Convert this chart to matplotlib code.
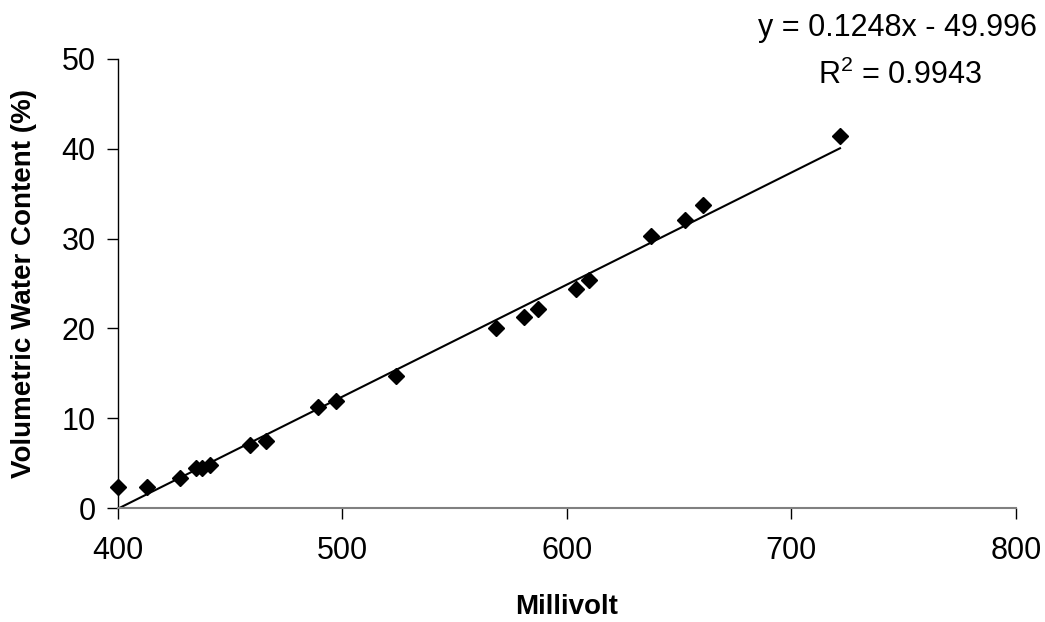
import matplotlib
matplotlib.use("Agg")
import matplotlib.pyplot as plt
import numpy as np

plt.rcParams['font.family'] = ['Liberation Sans', 'DejaVu Sans']
plt.rcParams['mathtext.fontset'] = 'custom'
plt.rcParams['mathtext.rm'] = 'Liberation Sans'
plt.rcParams['mathtext.it'] = 'Liberation Sans'

millivolt = [400, 412.8, 427.6, 434.7, 437.6, 441, 458.8, 465.8, 489, 497,
             524, 568.4, 580.8, 587, 603.9, 610, 637.4, 652.6, 660.4, 721.6]
vwc = [2.3, 2.3, 3.3, 4.4, 4.4, 4.8, 7.0, 7.5, 11.2, 11.9,
       14.7, 20.0, 21.3, 22.2, 24.4, 25.4, 30.3, 32.1, 33.7, 41.4]
slope = 0.1248
intercept = -49.996
r2 = 0.9943
xticks = [400, 500, 600, 700, 800]
yticks = [0, 10, 20, 30, 40, 50]

fig = plt.figure(figsize=(10.45, 6.22), dpi=100)
ax = fig.add_axes([118/1045, 1-508/622, (1016-118)/1045, (508-59)/622])

ax.plot(millivolt, vwc, linestyle='none', marker='D', markersize=8.5,
        color='black', zorder=3, clip_on=False)
xl = np.array([min(millivolt), max(millivolt)])
ax.plot(xl, slope*xl + intercept, color='black', linewidth=1.5, zorder=2)

ax.set_xlim(400, 800)
ax.set_ylim(0, 50)
ax.set_xticks(xticks)
ax.set_yticks(yticks)
ax.tick_params(axis='both', direction='out', length=8, width=1.0,
               labelsize=22, color='black')
ax.tick_params(axis='x', pad=12)
ax.tick_params(axis='y', pad=8)
for s in ['top', 'right']:
    ax.spines[s].set_visible(False)
ax.spines['left'].set_color('black')
ax.spines['bottom'].set_color('#808080')
ax.spines['bottom'].set_linewidth(1.5)
ax.spines['left'].set_linewidth(1.0)

ax.set_xlabel('Millivolt', fontsize=20, fontweight='bold', labelpad=20)
ax.set_ylabel('Volumetric Water Content (%)', fontsize=20, fontweight='bold', labelpad=18)

fig.text(897/1045, 1-28/622, f'y = {slope}x - {abs(intercept)}', fontsize=22,
         ha='center', va='center')
fig.text(900/1045, 1-75/622, r'R$^2$ = ' + f'{r2}', fontsize=22,
         ha='center', va='center')

fig.savefig('out.png', dpi=100)
